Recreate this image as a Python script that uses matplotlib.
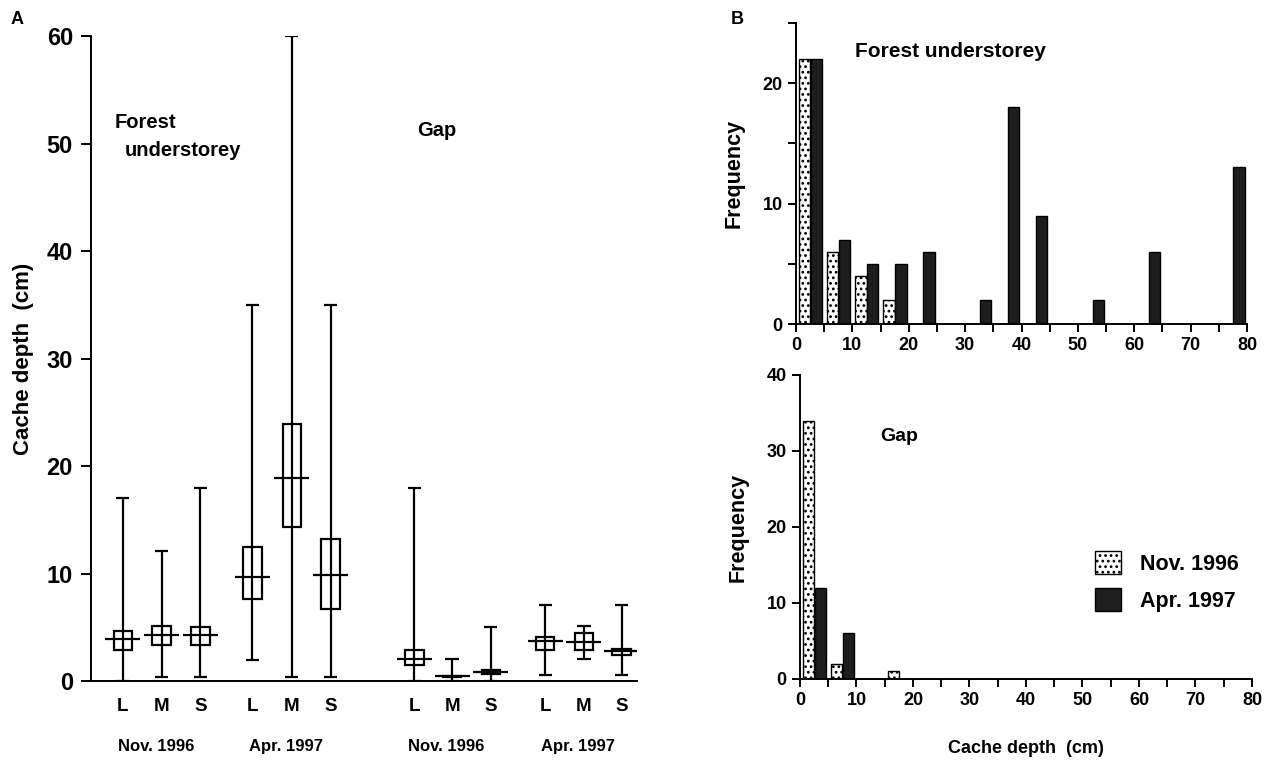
import matplotlib.pyplot as plt
from matplotlib.ticker import MultipleLocator
import numpy as np

plt.rcParams['font.family'] = ['Liberation Sans', 'DejaVu Sans']
plt.rcParams['font.weight'] = 'bold'
plt.rcParams['axes.labelweight'] = 'bold'
plt.rcParams['hatch.linewidth'] = 1.2

# ---- Panel A data: cache depth box summaries (cm) ----
# order: Forest Nov L,M,S | Forest Apr L,M,S | Gap Nov L,M,S | Gap Apr L,M,S
sizes = ['L', 'M', 'S'] * 4
groups = ['Nov. 1996', 'Apr. 1997', 'Nov. 1996', 'Apr. 1997']
whis_lo = [0, 0.4, 0.4, 2.0, 0.4, 0.4, 0, 0, 0, 0.6, 2.05, 0.6]
q1 = [2.9, 3.35, 3.35, 7.6, 14.3, 6.7, 1.45, 0.35, 0.7, 2.9, 2.9, 2.45]
median = [3.9, 4.3, 4.3, 9.7, 18.9, 9.9, 2.05, 0.45, 0.85, 3.75, 3.6, 2.75]
q3 = [4.7, 5.1, 5.0, 12.5, 23.9, 13.2, 2.9, 0.5, 1.05, 4.1, 4.5, 3.0]
whis_hi = [17, 12.1, 18, 35, 60, 35, 18, 2.05, 5.05, 7.1, 5.1, 7.1]

# ---- Panel B data: frequency of cache depths, 5 cm bins 0-80 ----
bin_left = np.arange(0, 80, 5)
forest_nov = [22, 6, 4, 2, 0, 0, 0, 0, 0, 0, 0, 0, 0, 0, 0, 0]
forest_apr = [22, 7, 5, 5, 6, 0, 2, 18, 9, 0, 2, 0, 6, 0, 0, 13]
gap_nov = [34, 2, 0, 1, 0, 0, 0, 0, 0, 0, 0, 0, 0, 0, 0, 0]
gap_apr = [12, 6, 0, 0, 0, 0, 0, 0, 0, 0, 0, 0, 0, 0, 0, 0]

fig = plt.figure(figsize=(12.66, 7.64), dpi=100)

# ================= Panel A =================
ax = fig.add_axes([0.0719, 0.1086, 0.4313, 0.8442])
pos = np.array([1, 2, 3, 4.34, 5.36, 6.36, 8.52, 9.49, 10.49, 11.89, 12.89, 13.86])
lw = 1.6
ax.vlines(pos, whis_lo, whis_hi, color='black', lw=lw)
ax.hlines(whis_hi, pos - 0.17, pos + 0.17, color='black', lw=lw)
ax.hlines(whis_lo, pos - 0.17, pos + 0.17, color='black', lw=lw)
ax.bar(pos, np.array(q3) - np.array(q1), bottom=q1, width=0.48,
       facecolor='none', edgecolor='black', lw=lw)
ax.hlines(median, pos - 0.45, pos + 0.45, color='black', lw=lw)

ax.set_xlim(0.18, 14.26)
ax.set_ylim(0, 60)
ax.set_yticks(np.arange(0, 61, 10))
ax.set_xticks([])
for s in ['top', 'right']:
    ax.spines[s].set_visible(False)
for s in ['left', 'bottom']:
    ax.spines[s].set_linewidth(1.4)
ax.tick_params(axis='y', direction='out', length=7, width=1.4, labelsize=17, pad=6)
ax.set_ylabel('Cache depth  (cm)', fontsize=16, labelpad=9)

for p, s in zip(pos, sizes):
    ax.text(p, -2.4, s, ha='center', va='center', fontsize=13.5, clip_on=False)
for i, g in enumerate(groups):
    ax.text(pos[3 * i + 1] - 0.15, -6.1, g, ha='center', va='center', fontsize=12,
            clip_on=False)
ax.text(0.8, 52, 'Forest', fontsize=14.5, ha='left', va='center')
ax.text(1.05, 49.4, 'understorey', fontsize=14.5, ha='left', va='center')
ax.text(8.6, 51.2, 'Gap', fontsize=14.5, ha='left', va='center')

fig.text(0.008, 0.975, 'A', fontsize=13, ha='left', va='center')
fig.text(0.577, 0.975, 'B', fontsize=13, ha='left', va='center')


# ================= Panel B =================
def hist_axes(rect, nov, apr, ymax, ylab_step):
    a = fig.add_axes(rect)
    a.bar(bin_left + 1.5, nov, width=2.0, facecolor='white', edgecolor='black',
          hatch='...', lw=1.0, label='Nov. 1996')
    a.bar(bin_left + 3.6, apr, width=2.0, facecolor='#1e1e1e', edgecolor='black',
          lw=1.0, label='Apr. 1997')
    a.set_xlim(0, 80)
    a.set_ylim(0, ymax)
    a.xaxis.set_major_locator(MultipleLocator(10))
    a.xaxis.set_minor_locator(MultipleLocator(5))
    a.yaxis.set_major_locator(MultipleLocator(ylab_step))
    for s in ['top', 'right']:
        a.spines[s].set_visible(False)
    for s in ['left', 'bottom']:
        a.spines[s].set_linewidth(1.4)
    a.tick_params(which='both', direction='out', length=6, width=1.4, labelsize=13)
    a.set_ylabel('Frequency', fontsize=15.5, labelpad=13)
    return a


ax1 = hist_axes([0.6288, 0.5759, 0.3562, 0.394], forest_nov, forest_apr, 25, 10)
ax1.yaxis.set_minor_locator(MultipleLocator(5))
ax1.text(0.131, 0.904, 'Forest understorey', transform=ax1.transAxes, fontsize=15,
         ha='left', va='center')

ax2 = hist_axes([0.6319, 0.1113, 0.357, 0.3979], gap_nov, gap_apr, 40, 10)
ax2.text(0.177, 0.796, 'Gap', transform=ax2.transAxes, fontsize=14,
         ha='left', va='center')
ax2.set_xlabel('Cache depth  (cm)', fontsize=13, labelpad=22)
ax2.legend(loc='upper left', bbox_to_anchor=(0.61, 0.485), frameon=False,
           fontsize=15.5, handlelength=1.2, handleheight=1.3, labelspacing=0.6,
           handletextpad=0.9)

fig.savefig('out.png', dpi=100)
